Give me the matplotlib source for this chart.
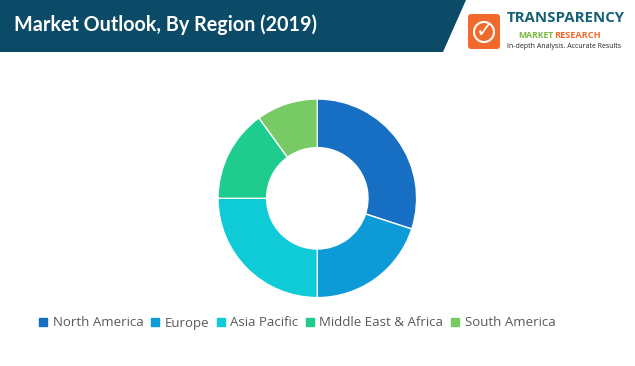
import matplotlib
matplotlib.use("Agg")
import matplotlib.pyplot as plt
from matplotlib.patches import Polygon, FancyBboxPatch, Circle
from matplotlib.lines import Line2D

W, H = 635, 366
DPI = 100

title = "Market Outlook, By Region (2019)"
regions = ["North America", "Europe", "Asia Pacific", "Middle East & Africa", "South America"]
shares = [30, 20, 25, 15, 10]
colors = ["#176fc4", "#0d9bd7", "#0fcbd8", "#1ecd8d", "#78cb64"]

fig = plt.figure(figsize=(W / DPI, H / DPI), dpi=DPI)
fig.patch.set_facecolor("white")

# overlay in pixel coords (y from top)
ov = fig.add_axes([0, 0, 1, 1])
ov.set_xlim(0, W)
ov.set_ylim(H, 0)
ov.axis("off")

# header band
ov.add_patch(Polygon([[0, 0], [466, 0], [443, 52], [0, 52]], closed=True,
                     facecolor="#0b4b68", edgecolor="none"))
ov.text(14, 25, title, color="white", fontsize=14.2, fontfamily="Lato",
        fontweight="bold", va="center", ha="left")

# logo
ov.add_patch(FancyBboxPatch((468, 14), 32, 35, boxstyle="round,pad=0,rounding_size=3",
                            facecolor="#f26a2b", edgecolor="none"))
ov.add_patch(Circle((484, 32), 10, facecolor="none", edgecolor="white", linewidth=1.5))
ov.text(485, 31, "\u2713", color="white", fontsize=15, ha="center", va="center",
        fontfamily="DejaVu Sans", fontweight="bold")
ov.text(507, 18, "TRANSPARENCY", color="#176177", fontsize=10.8, fontfamily="Open Sans",
        fontweight="bold", va="center", ha="left")
ov.text(518, 35, "MARKET", color="#7ab640", fontsize=6.2, fontfamily="Open Sans",
        fontweight="bold", va="center", ha="left")
ov.text(554, 35, "RESEARCH", color="#f26a2b", fontsize=6.6, fontfamily="Open Sans",
        fontweight="bold", va="center", ha="left")
ov.text(507, 46, "In-depth Analysis. Accurate Results", color="#222222", fontsize=5,
        fontfamily="Open Sans", va="center", ha="left")

# donut
cx, cy, r = 317.3, 198.3, 100
ax = fig.add_axes([(cx - r) / W, (H - cy - r) / H, 2 * r / W, 2 * r / H])
wedges, _ = ax.pie(shares, colors=colors, startangle=90, counterclock=False,
                   radius=0.993, wedgeprops=dict(width=0.993 - 0.507, edgecolor="white",
                                                 linewidth=1))
ax.set_xlim(-1, 1)
ax.set_ylim(-1, 1)
ax.set_aspect("equal")
ax.axis("off")

handles = [Line2D([], [], marker="s", linestyle="none", markersize=6,
                  markerfacecolor=c, markeredgecolor=c) for c in colors]
leg = fig.legend(handles, regions, loc="center", bbox_to_anchor=(297 / W, 1 - 323 / H),
                 ncol=5, frameon=False, handlelength=0.7, handletextpad=0.35,
                 columnspacing=0.55, prop={"family": "Open Sans", "size": 9.5})
for t in leg.get_texts():
    t.set_color("#595959")

fig.savefig("out.png", dpi=DPI)
